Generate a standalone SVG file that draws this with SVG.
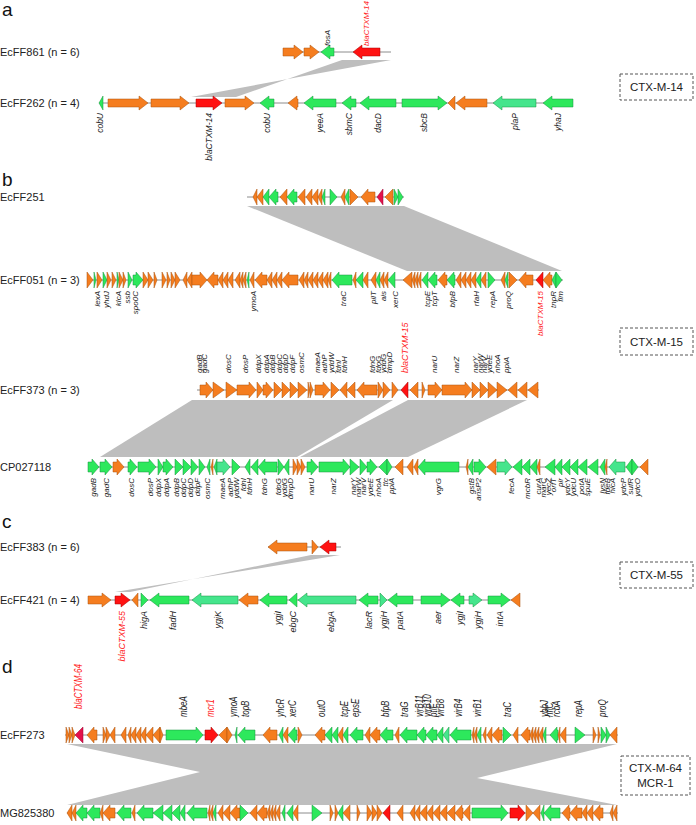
<svg xmlns="http://www.w3.org/2000/svg" width="696" height="825" viewBox="0 0 696 825">
<style>
.ln{stroke:#8c8c8c;stroke-width:1;fill:none}
.o{fill:#f57d1f;stroke:#a9520f;stroke-width:.5}
.g{fill:#2de85c;stroke:#17923c;stroke-width:.5}
.m{fill:#45e58c;stroke:#17923c;stroke-width:.5}
.r{fill:#ff1212;stroke:#a30000;stroke-width:.5}
.c{fill:#e3104b;stroke:#9a0030;stroke-width:.5}
.band{fill:#bebebe}
.nm{font-family:"Liberation Sans",Arial,sans-serif;font-size:11px;fill:#222}
.pl{font-family:"Liberation Sans",Arial,sans-serif;font-size:19px;fill:#111}
.gl{font-family:"Liberation Sans",Arial,sans-serif;font-style:italic;fill:#222}
.s8{font-size:8px}.s85{font-size:8.5px}.s9{font-size:9px}.s10{font-size:10px}
.red{fill:#ff1a1a}
.e{text-anchor:end}
.bx{fill:#fff;stroke:#555;stroke-width:1;stroke-dasharray:3 2}
.bt{font-family:"Liberation Sans",Arial,sans-serif;font-size:11.5px;fill:#222;text-anchor:middle}
</style>
<rect width="696" height="825" fill="#fff"/>
<g id="panel-letters">
<text class="pl" x="2" y="16">a</text>
<text class="pl" x="2" y="186">b</text>
<text class="pl" x="2" y="528">c</text>
<text class="pl" x="2" y="673">d</text>
</g>
<g id="connectors">
<polygon class="band" points="342,60 391,60 191,97 236,97"/>
<polygon class="band" points="247,206 404,206 562,271 407,271"/>
<polygon class="band" points="192,400 393,400 297,457 100,457"/>
<polygon class="band" points="408,400 527,400 408,457 300,457"/>
<polygon class="band" points="311,555 340,555 115,592 130,592"/>
<polygon class="band" points="67,744 617,744 477,778 617,805 67,805 200,772"/>
</g>
<g id="boxes">
<g id="box-CTX-M-14"><rect class="bx" x="620" y="74" width="73" height="26"/><text class="bt" x="656.5" y="91">CTX-M-14</text></g>
<g id="box-CTX-M-15"><rect class="bx" x="620" y="328" width="73" height="27"/><text class="bt" x="656.5" y="346">CTX-M-15</text></g>
<g id="box-CTX-M-55"><rect class="bx" x="620" y="562" width="73" height="26"/><text class="bt" x="656.5" y="579">CTX-M-55</text></g>
<g id="box-CTX-M-64"><rect class="bx" x="621" y="756" width="69" height="39"/><text class="bt" x="655.5" y="772">CTX-M-64</text><text class="bt" x="655.5" y="787">MCR-1</text></g>
</g>
<g id="EcFF861">
<text class="nm" x="0" y="56">EcFF861 (n = 6)</text>
<g transform="translate(0,52)">
<path class="ln" d="M283,0H391"/>
<path class="o" d="M283,-4h11v-3l9,7l-9,7v-3h-11z"/>
<path class="o" d="M304,-4h6v-3l9,7l-9,7v-3h-6z"/>
<path class="g" d="M321,0l9,-7v3h4v8h-4v3z"/>
<path class="r" d="M353,0l9,-7v3h18v8h-18v3z"/>
</g>
<text class="gl s8" transform="translate(330,46) rotate(-90)">fosA</text>
<text class="gl s8 red" transform="translate(369,46) rotate(-90)">blaCTXM-14</text>
</g>
<g id="EcFF262">
<text class="nm" x="0" y="107">EcFF262 (n = 4)</text>
<g transform="translate(0,103)">
<path class="ln" d="M99,0H573"/>
<path class="g" d="M99,0l4,-7v14z"/>
<path class="o" d="M108,-4h31v-3l9,7l-9,7v-3h-31z"/>
<path class="o" d="M151,-4h29v-3l9,7l-9,7v-3h-29z"/>
<path class="r" d="M196,-4h17v-3l9,7l-9,7v-3h-17z"/>
<path class="o" d="M225,-4h20v-3l9,7l-9,7v-3h-20z"/>
<path class="g" d="M260,0l9,-7v3h5v8h-5v3z"/>
<path class="o" d="M288,0l9,-7v3h1v8h-1v3z"/>
<path class="g" d="M304,0l9,-7v3h23v8h-23v3z"/>
<path class="g" d="M342,0l9,-7v3h5v8h-5v3z"/>
<path class="g" d="M360,0l9,-7v3h27v8h-27v3z"/>
<path class="g" d="M402,-4h36v-3l9,7l-9,7v-3h-36z"/>
<path class="o" d="M448,0l7,-7v14z"/>
<path class="o" d="M456,0l9,-7v3h22v8h-22v3z"/>
<path class="m" d="M493,0l9,-7v3h34v8h-34v3z"/>
<path class="g" d="M543,0l9,-7v3h21v8h-21v3z"/>
</g>
<g class="gl s85">
<text class="e" transform="translate(103,113) rotate(-90)">cobU</text>
<text class="e" transform="translate(212,113) rotate(-90)">blaCTXM-14</text>
<text class="e" transform="translate(270,113) rotate(-90)">cobU</text>
<text class="e" transform="translate(323,113) rotate(-90)">yeeA</text>
<text class="e" transform="translate(352,113) rotate(-90)">sbmC</text>
<text class="e" transform="translate(381,113) rotate(-90)">dacD</text>
<text class="e" transform="translate(427,113) rotate(-90)">sbcB</text>
<text class="e" transform="translate(518,113) rotate(-90)">plaP</text>
<text class="e" transform="translate(561,113) rotate(-90)">yhaJ</text>
</g>
</g>
<g id="EcFF251">
<text class="nm" x="0" y="201">EcFF251</text>
<g transform="translate(0,197)">
<path class="ln" d="M247,0H404"/>
<path class="o" d="M253,0l4,-8v16z"/>
<path class="o" d="M257,0l6,-8v16z"/>
<path class="g" d="M263,0l6,-8v16z"/>
<path class="g" d="M269,0l7,-8v3h2v10h-2v3z"/>
<path class="o" d="M280,0l7,-8v16z"/>
<path class="g" d="M287,0l7,-8v3h3v10h-3v3z"/>
<path class="o" d="M298,0l7,-8v16z"/>
<path class="o" d="M306,0l6,-8v16z"/>
<path class="o" d="M312,0l6,-8v16z"/>
<path class="o" d="M318,0l4,-8v16z"/>
<path class="g" d="M322,0l3,-8v16z"/>
<path class="g" d="M330,-8l7,8l-7,8z"/>
<path class="o" d="M341,0l4,-8v16z"/>
<path class="g" d="M345,0l4,-8v16z"/>
<path class="o" d="M350,-8l8,8l-8,8z"/>
<path class="o" d="M361,0l7,-8v3h7v10h-7v3z"/>
<path class="c" d="M377,0l6,-8v16z"/>
<path class="o" d="M385,0l8,-8v16z"/>
<path class="g" d="M394,-8l4,8l-4,8z"/>
<path class="g" d="M398,-8l5,8l-5,8z"/>
</g>
</g>
<g id="EcFF051">
<text class="nm" x="0" y="284">EcFF051 (n = 3)</text>
<g transform="translate(0,280)">
<path class="ln" d="M87,0H563"/>
<path class="o" d="M87,-8l6,8l-6,8z"/>
<path class="g" d="M94,-8l2,8l-2,8z"/>
<path class="o" d="M97,-8l5,8l-5,8z"/>
<path class="g" d="M103,-8l4,8l-4,8z"/>
<path class="o" d="M107,-8l4,8l-4,8z"/>
<path class="o" d="M112,-8l4,8l-4,8z"/>
<path class="g" d="M117,-8l2,8l-2,8z"/>
<path class="o" d="M119,-8l4,8l-4,8z"/>
<path class="o" d="M123,-8l3,8l-3,8z"/>
<path class="g" d="M128,-8l4,8l-4,8z"/>
<path class="g" d="M133,-5h3v-3l7,8l-7,8v-3h-3z"/>
<path class="o" d="M143,-8l5,8l-5,8z"/>
<path class="o" d="M148,-8l5,8l-5,8z"/>
<path class="o" d="M154,-8l3,8l-3,8z"/>
<path class="o" d="M162,-8l4,8l-4,8z"/>
<path class="o" d="M167,-8l3,8l-3,8z"/>
<path class="o" d="M171,-8l4,8l-4,8z"/>
<path class="o" d="M175,-8l5,8l-5,8z"/>
<path class="o" d="M183,0l4,-8v16z"/>
<path class="o" d="M187,0l5,-8v16z"/>
<path class="o" d="M192,-5h8v-3l7,8l-7,8v-3h-8z"/>
<path class="o" d="M207,0l7,-8v3h4v10h-4v3z"/>
<path class="o" d="M218,0l5,-8v16z"/>
<path class="o" d="M223,0l5,-8v16z"/>
<path class="o" d="M228,0l5,-8v16z"/>
<path class="o" d="M235,0l5,-8v16z"/>
<path class="o" d="M240,0l3,-8v16z"/>
<path class="o" d="M243,0l3,-8v16z"/>
<path class="g" d="M247,0l2,-8v16z"/>
<path class="o" d="M250,0l4,-8v16z"/>
<path class="o" d="M255,0l7,-8v3h5v10h-5v3z"/>
<path class="o" d="M267,0l5,-8v16z"/>
<path class="o" d="M272,0l5,-8v16z"/>
<path class="o" d="M277,0l5,-8v16z"/>
<path class="o" d="M282,0l7,-8v3h9v10h-9v3z"/>
<path class="o" d="M299,0l5,-8v16z"/>
<path class="o" d="M304,0l4,-8v16z"/>
<path class="o" d="M308,0l5,-8v16z"/>
<path class="o" d="M313,0l5,-8v16z"/>
<path class="o" d="M318,0l5,-8v16z"/>
<path class="o" d="M323,0l5,-8v16z"/>
<path class="o" d="M328,0l3,-8v16z"/>
<path class="g" d="M332,0l7,-8v3h13v10h-13v3z"/>
<path class="o" d="M353,0l3,-8v16z"/>
<path class="g" d="M356,0l7,-8v16z"/>
<path class="o" d="M363,0l5,-8v16z"/>
<path class="o" d="M371,0l5,-8v16z"/>
<path class="g" d="M376,0l4,-8v16z"/>
<path class="o" d="M380,0l4,-8v16z"/>
<path class="o" d="M384,0l4,-8v16z"/>
<path class="g" d="M388,0l7,-8v16z"/>
<path class="o" d="M403,0l9,-8v16z"/>
<path class="o" d="M412,0l3,-8v16z"/>
<path class="o" d="M415,0l3,-8v16z"/>
<path class="o" d="M418,0l3,-8v16z"/>
<path class="g" d="M422,0l6,-8v16z"/>
<path class="g" d="M428,0l7,-8v3h2v10h-2v3z"/>
<path class="o" d="M438,0l7,-8v3h2v10h-2v3z"/>
<path class="g" d="M447,0l7,-8v3h1v10h-1v3z"/>
<path class="o" d="M456,0l5,-8v16z"/>
<path class="o" d="M461,0l5,-8v16z"/>
<path class="o" d="M466,0l5,-8v16z"/>
<path class="o" d="M471,0l5,-8v16z"/>
<path class="g" d="M476,0l5,-8v16z"/>
<path class="o" d="M481,0l5,-8v16z"/>
<path class="g" d="M488,-8l7,8l-7,8z"/>
<path class="o" d="M501,0l4,-8v16z"/>
<path class="g" d="M505,0l3,-8v16z"/>
<path class="o" d="M509,-8l8,8l-8,8z"/>
<path class="o" d="M519,0l7,-8v3h7v10h-7v3z"/>
<path class="r" d="M536,0l7,-8v16z"/>
<path class="o" d="M543,0l7,-8v3h2v10h-2v3z"/>
<path class="g" d="M552,0l4,-8v16z"/>
<path class="g" d="M556,-8l6,8l-6,8z"/>
</g>
<g class="gl s8">
<text class="e" transform="translate(100,291) rotate(-90)">lexA</text>
<text class="e" transform="translate(109,291) rotate(-90)">yhdJ</text>
<text class="e" transform="translate(121,291) rotate(-90)">klcA</text>
<text class="e" transform="translate(130,291) rotate(-90)">ssb</text>
<text class="e" transform="translate(138,291) rotate(-90)">spo0C</text>
<text class="e" transform="translate(256,291) rotate(-90)">ymoA</text>
<text class="e" transform="translate(346,291) rotate(-90)">traC</text>
<text class="e" transform="translate(376,291) rotate(-90)">pilT</text>
<text class="e" transform="translate(386,291) rotate(-90)">ais</text>
<text class="e" transform="translate(398,291) rotate(-90)">xerC</text>
<text class="e" transform="translate(430,291) rotate(-90)">tcpE</text>
<text class="e" transform="translate(437,291) rotate(-90)">tcpT</text>
<text class="e" transform="translate(455,291) rotate(-90)">bfpB</text>
<text class="e" transform="translate(479,291) rotate(-90)">rfaH</text>
<text class="e" transform="translate(495,291) rotate(-90)">repA</text>
<text class="e" transform="translate(511,291) rotate(-90)">proQ</text>
<text class="e red" transform="translate(543,291) rotate(-90)">blaCTXM-15</text>
<text class="e" transform="translate(556,291) rotate(-90)">tnpR</text>
<text class="e" transform="translate(563,291) rotate(-90)">fim</text>
</g>
</g>
<g id="EcFF373">
<text class="nm" x="0" y="394">EcFF373 (n = 3)</text>
<g transform="translate(0,390)">
<path class="ln" d="M197,0H539"/>
<path class="o" d="M200,-5h6v-3l7,8l-7,8v-3h-6z"/>
<path class="o" d="M213,-8l11,8l-11,8z"/>
<path class="o" d="M226,-8l11,8l-11,8z"/>
<path class="o" d="M237,-5h12v-3l7,8l-7,8v-3h-12z"/>
<path class="o" d="M257,-8l6,8l-6,8z"/>
<path class="o" d="M263,-5h3v-3l7,8l-7,8v-3h-3z"/>
<path class="o" d="M274,-8l8,8l-8,8z"/>
<path class="o" d="M282,-8l8,8l-8,8z"/>
<path class="o" d="M290,-8l8,8l-8,8z"/>
<path class="o" d="M298,-8l9,8l-9,8z"/>
<path class="o" d="M308,-8l2,8l-2,8z"/>
<path class="o" d="M310,-8l3,8l-3,8z"/>
<path class="o" d="M315,-5h8v-3l7,8l-7,8v-3h-8z"/>
<path class="o" d="M331,-8l8,8l-8,8z"/>
<path class="o" d="M340,0l7,-8v16z"/>
<path class="o" d="M347,0l8,-8v16z"/>
<path class="o" d="M357,0l7,-8v3h13v10h-13v3z"/>
<path class="o" d="M378,-8l5,8l-5,8z"/>
<path class="o" d="M383,-8l7,8l-7,8z"/>
<path class="o" d="M392,-8l6,8l-6,8z"/>
<path class="r" d="M401,0l7,-8v16z"/>
<path class="o" d="M410,0l8,-8v16z"/>
<path class="o" d="M422,-8l3,8l-3,8z"/>
<path class="o" d="M428,-5h7v-3l7,8l-7,8v-3h-7z"/>
<path class="o" d="M442,-5h23v-3l7,8l-7,8v-3h-23z"/>
<path class="o" d="M472,-8l8,8l-8,8z"/>
<path class="o" d="M480,-8l8,8l-8,8z"/>
<path class="o" d="M488,-8l9,8l-9,8z"/>
<path class="o" d="M497,-8l10,8l-10,8z"/>
<path class="o" d="M508,0l9,-8v16z"/>
<path class="o" d="M518,0l9,-8v16z"/>
<path class="o" d="M528,0l10,-8v16z"/>
</g>
<g class="gl s8">
<text transform="translate(202,373) rotate(-90)">gadB</text>
<text transform="translate(207,373) rotate(-90)">gadC</text>
<text transform="translate(231,373) rotate(-90)">dosC</text>
<text transform="translate(248,373) rotate(-90)">dosP</text>
<text transform="translate(261,373) rotate(-90)">ddpX</text>
<text transform="translate(269,373) rotate(-90)">ddpA</text>
<text transform="translate(275,373) rotate(-90)">ddpB</text>
<text transform="translate(282,373) rotate(-90)">ddpC</text>
<text transform="translate(288,373) rotate(-90)">ddpD</text>
<text transform="translate(295,373) rotate(-90)">ddpF</text>
<text transform="translate(304,373) rotate(-90)">osmC</text>
<text transform="translate(320,373) rotate(-90)">maeA</text>
<text transform="translate(327,373) rotate(-90)">adhP</text>
<text transform="translate(334,373) rotate(-90)">yddW</text>
<text transform="translate(341,373) rotate(-90)">fdnI</text>
<text transform="translate(347,373) rotate(-90)">fdnH</text>
<text transform="translate(375,373) rotate(-90)">fdnG</text>
<text transform="translate(381,373) rotate(-90)">fdoG</text>
<text transform="translate(386,373) rotate(-90)">yddG</text>
<text transform="translate(392,373) rotate(-90)">dmpD</text>
<text class="red s9" transform="translate(408,373) rotate(-90)">blaCTXM-15</text>
<text transform="translate(437,373) rotate(-90)">narU</text>
<text transform="translate(459,373) rotate(-90)">narZ</text>
<text transform="translate(478,373) rotate(-90)">narY</text>
<text transform="translate(483,373) rotate(-90)">narW</text>
<text transform="translate(487,373) rotate(-90)">narV</text>
<text transform="translate(492,373) rotate(-90)">ydeE</text>
<text transform="translate(500,373) rotate(-90)">nhoA</text>
<text transform="translate(509,373) rotate(-90)">ppiA</text>
</g>
</g>
<g id="CP027118">
<text class="nm" x="0" y="471">CP027118</text>
<g transform="translate(0,467)">
<path class="ln" d="M88,0H648"/>
<path class="g" d="M88,-5h4v-3l7,8l-7,8v-3h-4z"/>
<path class="g" d="M100,-5h5v-3l7,8l-7,8v-3h-5z"/>
<path class="o" d="M113,-5h4v-3l7,8l-7,8v-3h-4z"/>
<path class="g" d="M128,-5h2v-3l7,8l-7,8v-3h-2z"/>
<path class="g" d="M138,-5h11v-3l7,8l-7,8v-3h-11z"/>
<path class="g" d="M158,-8l5,8l-5,8z"/>
<path class="g" d="M163,-5h3v-3l7,8l-7,8v-3h-3z"/>
<path class="g" d="M175,-8l8,8l-8,8z"/>
<path class="g" d="M183,-8l8,8l-8,8z"/>
<path class="g" d="M191,-8l7,8l-7,8z"/>
<path class="g" d="M199,-8l6,8l-6,8z"/>
<path class="g" d="M207,0l3,-8v16z"/>
<path class="o" d="M211,0l2,-8v16z"/>
<path class="g" d="M214,0l3,-8v16z"/>
<path class="m" d="M217,-5h6v-3l7,8l-7,8v-3h-6z"/>
<path class="g" d="M232,-8l8,8l-8,8z"/>
<path class="g" d="M245,0l5,-8v16z"/>
<path class="g" d="M251,0l7,-8v16z"/>
<path class="g" d="M258,0l7,-8v3h12v10h-12v3z"/>
<path class="g" d="M278,-8l6,8l-6,8z"/>
<path class="g" d="M284,0l5,-8v16z"/>
<path class="o" d="M293,-8l4,8l-4,8z"/>
<path class="o" d="M297,-8l4,8l-4,8z"/>
<path class="o" d="M301,-8l4,8l-4,8z"/>
<path class="g" d="M307,-5h4v-3l7,8l-7,8v-3h-4z"/>
<path class="g" d="M319,-5h24v-3l7,8l-7,8v-3h-24z"/>
<path class="g" d="M350,-8l9,8l-9,8z"/>
<path class="g" d="M360,-8l7,8l-7,8z"/>
<path class="g" d="M367,-5h3v-3l7,8l-7,8v-3h-3z"/>
<path class="g" d="M379,0l8,-8v16z"/>
<path class="g" d="M387,-8l5,8l-5,8z"/>
<path class="o" d="M395,0l8,-8v16z"/>
<path class="o" d="M407,0l6,-8v16z"/>
<path class="o" d="M414,0l4,-8v16z"/>
<path class="g" d="M418,0l7,-8v3h34v10h-34v3z"/>
<path class="o" d="M466,0l2,-8v16z"/>
<path class="g" d="M468,0l5,-8v16z"/>
<path class="g" d="M474,-5h5v-3l7,8l-7,8v-3h-5z"/>
<path class="o" d="M487,0l9,-8v16z"/>
<path class="m" d="M497,-5h8v-3l7,8l-7,8v-3h-8z"/>
<path class="g" d="M513,0l9,-8v16z"/>
<path class="g" d="M522,0l8,-8v16z"/>
<path class="g" d="M530,0l7,-8v16z"/>
<path class="o" d="M537,0l3,-8v16z"/>
<path class="g" d="M545,0l10,-8v16z"/>
<path class="g" d="M555,0l7,-8v16z"/>
<path class="g" d="M562,0l8,-8v16z"/>
<path class="g" d="M570,0l8,-8v16z"/>
<path class="g" d="M578,0l9,-8v16z"/>
<path class="g" d="M588,0l10,-8v16z"/>
<path class="g" d="M600,0l5,-8v16z"/>
<path class="o" d="M605,0l2,-8v16z"/>
<path class="m" d="M609,0l7,-8v3h9v10h-9v3z"/>
<path class="g" d="M626,0l6,-8v16z"/>
<path class="g" d="M632,-8l6,8l-6,8z"/>
<path class="o" d="M640,0l8,-8v16z"/>
</g>
<g class="gl s8">
<text class="e" transform="translate(96,478) rotate(-90)">gadB</text>
<text class="e" transform="translate(109,478) rotate(-90)">gadC</text>
<text class="e" transform="translate(134,478) rotate(-90)">dosC</text>
<text class="e" transform="translate(153,478) rotate(-90)">dosP</text>
<text class="e" transform="translate(161,478) rotate(-90)">ddpX</text>
<text class="e" transform="translate(169,478) rotate(-90)">ddpA</text>
<text class="e" transform="translate(179,478) rotate(-90)">ddpB</text>
<text class="e" transform="translate(186,478) rotate(-90)">ddpC</text>
<text class="e" transform="translate(193,478) rotate(-90)">ddpD</text>
<text class="e" transform="translate(200,478) rotate(-90)">ddpF</text>
<text class="e" transform="translate(210,478) rotate(-90)">osmC</text>
<text class="e" transform="translate(225,478) rotate(-90)">maeA</text>
<text class="e" transform="translate(233,478) rotate(-90)">adhP</text>
<text class="e" transform="translate(239,478) rotate(-90)">yddW</text>
<text class="e" transform="translate(246,478) rotate(-90)">fdnI</text>
<text class="e" transform="translate(252,478) rotate(-90)">fdnH</text>
<text class="e" transform="translate(267,478) rotate(-90)">fdnG</text>
<text class="e" transform="translate(281,478) rotate(-90)">fdoG</text>
<text class="e" transform="translate(287,478) rotate(-90)">yddG</text>
<text class="e" transform="translate(293,478) rotate(-90)">dmpD</text>
<text class="e" transform="translate(314,478) rotate(-90)">narU</text>
<text class="e" transform="translate(336,478) rotate(-90)">narZ</text>
<text class="e" transform="translate(356,478) rotate(-90)">narY</text>
<text class="e" transform="translate(361,478) rotate(-90)">narW</text>
<text class="e" transform="translate(366,478) rotate(-90)">narV</text>
<text class="e" transform="translate(373,478) rotate(-90)">ydeE</text>
<text class="e" transform="translate(381,478) rotate(-90)">nhoA</text>
<text class="e" transform="translate(388,478) rotate(-90)">ttc</text>
<text class="e" transform="translate(394,478) rotate(-90)">ppiA</text>
<text class="e" transform="translate(441,478) rotate(-90)">vgrG</text>
<text class="e" transform="translate(474,478) rotate(-90)">gstB</text>
<text class="e" transform="translate(481,478) rotate(-90)">ansP2</text>
<text class="e" transform="translate(514,478) rotate(-90)">fecA</text>
<text class="e" transform="translate(530,478) rotate(-90)">mcbR</text>
<text class="e" transform="translate(541,478) rotate(-90)">curA</text>
<text class="e" transform="translate(546,478) rotate(-90)">marC</text>
<text class="e" transform="translate(551,478) rotate(-90)">yecZ</text>
<text class="e" transform="translate(556,478) rotate(-90)">orfT</text>
<text class="e" transform="translate(563,478) rotate(-90)">pir</text>
<text class="e" transform="translate(570,478) rotate(-90)">ydcY</text>
<text class="e" transform="translate(576,478) rotate(-90)">ydcU</text>
<text class="e" transform="translate(584,478) rotate(-90)">potA</text>
<text class="e" transform="translate(590,478) rotate(-90)">spuE</text>
<text class="e" transform="translate(605,478) rotate(-90)">lysN</text>
<text class="e" transform="translate(610,478) rotate(-90)">fdeB</text>
<text class="e" transform="translate(615,478) rotate(-90)">hicA</text>
<text class="e" transform="translate(626,478) rotate(-90)">ydcP</text>
<text class="e" transform="translate(633,478) rotate(-90)">sufR</text>
<text class="e" transform="translate(640,478) rotate(-90)">ydcO</text>
</g>
</g>
<g id="EcFF383">
<text class="nm" x="0" y="551">EcFF383 (n = 6)</text>
<g transform="translate(0,547)">
<path class="ln" d="M268,0H341"/>
<path class="o" d="M268,0l9,-7v3h30v8h-30v3z"/>
<path class="o" d="M312,-7l6,7l-6,7z"/>
<path class="r" d="M320,0l9,-7v3h7v8h-7v3z"/>
</g>
</g>
<g id="EcFF421">
<text class="nm" x="0" y="604">EcFF421 (n = 4)</text>
<g transform="translate(0,600)">
<path class="ln" d="M88,0H520"/>
<path class="o" d="M88,-4h14v-3l9,7l-9,7v-3h-14z"/>
<path class="r" d="M115,-4h6v-3l9,7l-9,7v-3h-6z"/>
<path class="o" d="M132,0l6,-7v14z"/>
<path class="g" d="M141,-7l7,7l-7,7z"/>
<path class="g" d="M150,0l9,-7v3h30v8h-30v3z"/>
<path class="m" d="M192,0l9,-7v3h37v8h-37v3z"/>
<path class="o" d="M239,0l9,-7v3h10v8h-10v3z"/>
<path class="g" d="M260,0l9,-7v3h18v8h-18v3z"/>
<path class="g" d="M289,0l8,-7v14z"/>
<path class="m" d="M298,0l9,-7v3h49v8h-49v3z"/>
<path class="g" d="M359,0l9,-7v3h10v8h-10v3z"/>
<path class="m" d="M380,-7l7,7l-7,7z"/>
<path class="g" d="M388,0l9,-7v3h16v8h-16v3z"/>
<path class="g" d="M421,-4h20v-3l9,7l-9,7v-3h-20z"/>
<path class="g" d="M451,0l9,-7v3h4v8h-4v3z"/>
<path class="m" d="M469,-4h4v-3l9,7l-9,7v-3h-4z"/>
<path class="g" d="M488,-4h13v-3l9,7l-9,7v-3h-13z"/>
<path class="o" d="M511,0l9,-7v14z"/>
</g>
<g class="gl s9">
<text class="e red" transform="translate(125,611) rotate(-90)">blaCTXM-55</text>
<text class="e" transform="translate(147,611) rotate(-90)">higA</text>
<text class="e" transform="translate(176,611) rotate(-90)">fadH</text>
<text class="e" transform="translate(221,611) rotate(-90)">ygjK</text>
<text class="e" transform="translate(281,611) rotate(-90)">ygjI</text>
<text class="e" transform="translate(296,611) rotate(-90)">ebgC</text>
<text class="e" transform="translate(334,611) rotate(-90)">ebgA</text>
<text class="e" transform="translate(372,611) rotate(-90)">lacR</text>
<text class="e" transform="translate(387,611) rotate(-90)">ygjH</text>
<text class="e" transform="translate(403,611) rotate(-90)">patA</text>
<text class="e" transform="translate(441,611) rotate(-90)">aer</text>
<text class="e" transform="translate(463,611) rotate(-90)">ygjI</text>
<text class="e" transform="translate(481,611) rotate(-90)">ygjH</text>
<text class="e" transform="translate(503,611) rotate(-90)">intA</text>
</g>
</g>
<g id="EcFF273">
<text class="nm" x="0" y="739">EcFF273</text>
<g transform="translate(0,735)">
<path class="ln" d="M65,0H618"/>
<path class="o" d="M66,-8l3,8l-3,8z"/>
<path class="o" d="M69,-8l3,8l-3,8z"/>
<path class="o" d="M72,-8l3,8l-3,8z"/>
<path class="c" d="M75,0l8,-8v16z"/>
<path class="o" d="M87,0l7,-8v3h3v10h-3v3z"/>
<path class="o" d="M103,-8l3,8l-3,8z"/>
<path class="o" d="M106,-8l4,8l-4,8z"/>
<path class="o" d="M110,0l5,-8v16z"/>
<path class="o" d="M121,0l5,-8v16z"/>
<path class="o" d="M128,0l3,-8v16z"/>
<path class="o" d="M131,0l5,-8v16z"/>
<path class="o" d="M136,0l5,-8v16z"/>
<path class="o" d="M141,0l5,-8v16z"/>
<path class="o" d="M146,0l7,-8v16z"/>
<path class="o" d="M153,0l7,-8v16z"/>
<path class="o" d="M160,-8l3,8l-3,8z"/>
<path class="g" d="M166,-5h30v-3l7,8l-7,8v-3h-30z"/>
<path class="r" d="M205,-5h6v-3l7,8l-7,8v-3h-6z"/>
<path class="o" d="M219,0l8,-8v16z"/>
<path class="o" d="M227,-8l5,8l-5,8z"/>
<path class="g" d="M235,0l2,-8v16z"/>
<path class="g" d="M238,0l7,-8v3h10v10h-10v3z"/>
<path class="o" d="M263,0l7,-8v3h7v10h-7v3z"/>
<path class="g" d="M279,0l4,-8v16z"/>
<path class="o" d="M283,0l5,-8v16z"/>
<path class="g" d="M288,0l7,-8v3h2v10h-2v3z"/>
<path class="o" d="M298,-8l4,8l-4,8z"/>
<path class="o" d="M315,0l7,-8v3h3v10h-3v3z"/>
<path class="g" d="M325,0l7,-8v16z"/>
<path class="g" d="M332,0l6,-8v16z"/>
<path class="o" d="M338,0l5,-8v16z"/>
<path class="g" d="M343,0l5,-8v16z"/>
<path class="g" d="M350,0l7,-8v3h6v10h-6v3z"/>
<path class="o" d="M365,0l5,-8v16z"/>
<path class="o" d="M370,0l7,-8v3h3v10h-3v3z"/>
<path class="g" d="M380,0l7,-8v3h6v10h-6v3z"/>
<path class="o" d="M395,0l4,-8v16z"/>
<path class="g" d="M400,0l7,-8v3h10v10h-10v3z"/>
<path class="g" d="M417,0l7,-8v3h2v10h-2v3z"/>
<path class="g" d="M426,0l7,-8v3h4v10h-4v3z"/>
<path class="g" d="M437,0l6,-8v16z"/>
<path class="m" d="M443,0l6,-8v16z"/>
<path class="g" d="M450,0l7,-8v3h14v10h-14v3z"/>
<path class="o" d="M472,0l2,-8v16z"/>
<path class="o" d="M474,0l3,-8v16z"/>
<path class="g" d="M477,0l4,-8v16z"/>
<path class="o" d="M483,0l3,-8v16z"/>
<path class="o" d="M487,0l5,-8v16z"/>
<path class="o" d="M492,0l7,-8v3h3v10h-3v3z"/>
<path class="g" d="M503,-8l8,8l-8,8z"/>
<path class="o" d="M513,0l5,-8v16z"/>
<path class="o" d="M521,0l7,-8v3h2v10h-2v3z"/>
<path class="o" d="M530,0l3,-8v16z"/>
<path class="o" d="M533,0l3,-8v16z"/>
<path class="o" d="M536,0l3,-8v16z"/>
<path class="o" d="M539,0l4,-8v16z"/>
<path class="g" d="M543,0l3,-8v16z"/>
<path class="g" d="M550,0l7,-8v3h1v10h-1v3z"/>
<path class="o" d="M558,0l2,-8v16z"/>
<path class="o" d="M560,0l6,-8v16z"/>
<path class="g" d="M575,-8l10,8l-10,8z"/>
<path class="o" d="M593,-8l3,8l-3,8z"/>
<path class="o" d="M598,-8l2,8l-2,8z"/>
<path class="g" d="M601,-8l5,8l-5,8z"/>
<path class="g" d="M606,-8l4,8l-4,8z"/>
<path class="o" d="M610,0l7,-8v16z"/>
</g>
<g class="gl s10">
<text class="red" transform="translate(82,709) rotate(-90) scale(.8,1)">blaCTXM-64</text>
<text transform="translate(187,717) rotate(-90) scale(.8,1)">mbeA</text>
<text class="red" transform="translate(214,717) rotate(-90) scale(.8,1)">mcr1</text>
<text transform="translate(237,717) rotate(-90) scale(.8,1)">ymoA</text>
<text transform="translate(249,717) rotate(-90) scale(.8,1)">topB</text>
<text transform="translate(284,717) rotate(-90) scale(.8,1)">yhcR</text>
<text transform="translate(296,717) rotate(-90) scale(.8,1)">xerC</text>
<text transform="translate(325,717) rotate(-90) scale(.8,1)">outO</text>
<text transform="translate(348,717) rotate(-90) scale(.8,1)">tcpE</text>
<text transform="translate(359,717) rotate(-90) scale(.8,1)">epsE</text>
<text transform="translate(389,717) rotate(-90) scale(.8,1)">bfpB</text>
<text transform="translate(408,717) rotate(-90) scale(.8,1)">traG</text>
<text transform="translate(423,717) rotate(-90) scale(.8,1)">virB11</text>
<text transform="translate(431,717) rotate(-90) scale(.8,1)">virB10</text>
<text transform="translate(437,717) rotate(-90) scale(.8,1)">ptlF</text>
<text transform="translate(444,717) rotate(-90) scale(.8,1)">virB8</text>
<text transform="translate(462,717) rotate(-90) scale(.8,1)">virB4</text>
<text transform="translate(481,717) rotate(-90) scale(.8,1)">virB1</text>
<text transform="translate(511,717) rotate(-90) scale(.8,1)">traC</text>
<text transform="translate(548,717) rotate(-90) scale(.8,1)">ybbJ</text>
<text transform="translate(553,717) rotate(-90) scale(.8,1)">hflC</text>
<text transform="translate(560,717) rotate(-90) scale(.8,1)">rcbA</text>
<text transform="translate(582,717) rotate(-90) scale(.8,1)">repA</text>
<text transform="translate(606,717) rotate(-90) scale(.8,1)">proQ</text>
</g>
</g>
<g id="MG825380">
<text class="nm" x="0" y="817">MG825380</text>
<g transform="translate(0,813)">
<path class="ln" d="M67,0H618"/>
<path class="o" d="M67,0l5,-8v16z"/>
<path class="o" d="M72,0l4,-8v16z"/>
<path class="g" d="M76,0l7,-8v3h4v10h-4v3z"/>
<path class="g" d="M87,0l7,-8v3h6v10h-6v3z"/>
<path class="o" d="M100,0l3,-8v16z"/>
<path class="o" d="M103,0l7,-8v3h5v10h-5v3z"/>
<path class="g" d="M117,0l7,-8v3h7v10h-7v3z"/>
<path class="o" d="M132,0l3,-8v16z"/>
<path class="g" d="M137,0l7,-8v3h9v10h-9v3z"/>
<path class="g" d="M153,0l10,-8v16z"/>
<path class="g" d="M163,0l9,-8v16z"/>
<path class="g" d="M172,0l8,-8v16z"/>
<path class="g" d="M180,0l5,-8v16z"/>
<path class="g" d="M187,0l7,-8v3h13v10h-13v3z"/>
<path class="o" d="M208,0l2,-8v16z"/>
<path class="o" d="M210,0l3,-8v16z"/>
<path class="g" d="M213,0l3,-8v16z"/>
<path class="o" d="M218,0l5,-8v16z"/>
<path class="o" d="M223,0l7,-8v16z"/>
<path class="o" d="M230,0l7,-8v3h3v10h-3v3z"/>
<path class="g" d="M240,-8l8,8l-8,8z"/>
<path class="o" d="M250,0l7,-8v16z"/>
<path class="o" d="M257,0l7,-8v3h3v10h-3v3z"/>
<path class="o" d="M267,0l3,-8v16z"/>
<path class="o" d="M270,0l3,-8v16z"/>
<path class="o" d="M273,0l3,-8v16z"/>
<path class="o" d="M276,0l4,-8v16z"/>
<path class="g" d="M282,0l3,-8v16z"/>
<path class="g" d="M287,0l6,-8v16z"/>
<path class="o" d="M293,0l5,-8v16z"/>
<path class="g" d="M312,-8l10,8l-10,8z"/>
<path class="o" d="M330,-8l3,8l-3,8z"/>
<path class="o" d="M335,-8l3,8l-3,8z"/>
<path class="g" d="M338,0l5,-8v16z"/>
<path class="o" d="M343,0l7,-8v16z"/>
<path class="o" d="M357,-8l3,8l-3,8z"/>
<path class="o" d="M367,-8l5,8l-5,8z"/>
<path class="o" d="M372,-8l5,8l-5,8z"/>
<path class="o" d="M377,-8l5,8l-5,8z"/>
<path class="r" d="M383,0l7,-8v16z"/>
<path class="o" d="M397,0l6,-8v16z"/>
<path class="o" d="M410,0l5,-8v16z"/>
<path class="o" d="M415,0l5,-8v16z"/>
<path class="o" d="M420,0l7,-8v16z"/>
<path class="o" d="M427,0l6,-8v16z"/>
<path class="o" d="M433,0l7,-8v16z"/>
<path class="o" d="M440,0l7,-8v16z"/>
<path class="o" d="M447,0l8,-8v16z"/>
<path class="o" d="M455,0l7,-8v3h1v10h-1v3z"/>
<path class="o" d="M463,0l7,-8v16z"/>
<path class="g" d="M472,-5h29v-3l7,8l-7,8v-3h-29z"/>
<path class="r" d="M510,-5h8v-3l7,8l-7,8v-3h-8z"/>
<path class="o" d="M526,-8l7,8l-7,8z"/>
<path class="o" d="M533,0l7,-8v16z"/>
<path class="g" d="M541,0l3,-8v16z"/>
<path class="g" d="M544,0l7,-8v3h9v10h-9v3z"/>
<path class="o" d="M562,0l7,-8v3h1v10h-1v3z"/>
<path class="o" d="M570,0l7,-8v3h5v10h-5v3z"/>
<path class="o" d="M582,0l5,-8v16z"/>
<path class="o" d="M587,0l6,-8v16z"/>
<path class="o" d="M593,0l7,-8v3h3v10h-3v3z"/>
<path class="o" d="M610,0l3,-8v16z"/>
<path class="o" d="M613,0l4,-8v16z"/>
</g>
</g>
</svg>
